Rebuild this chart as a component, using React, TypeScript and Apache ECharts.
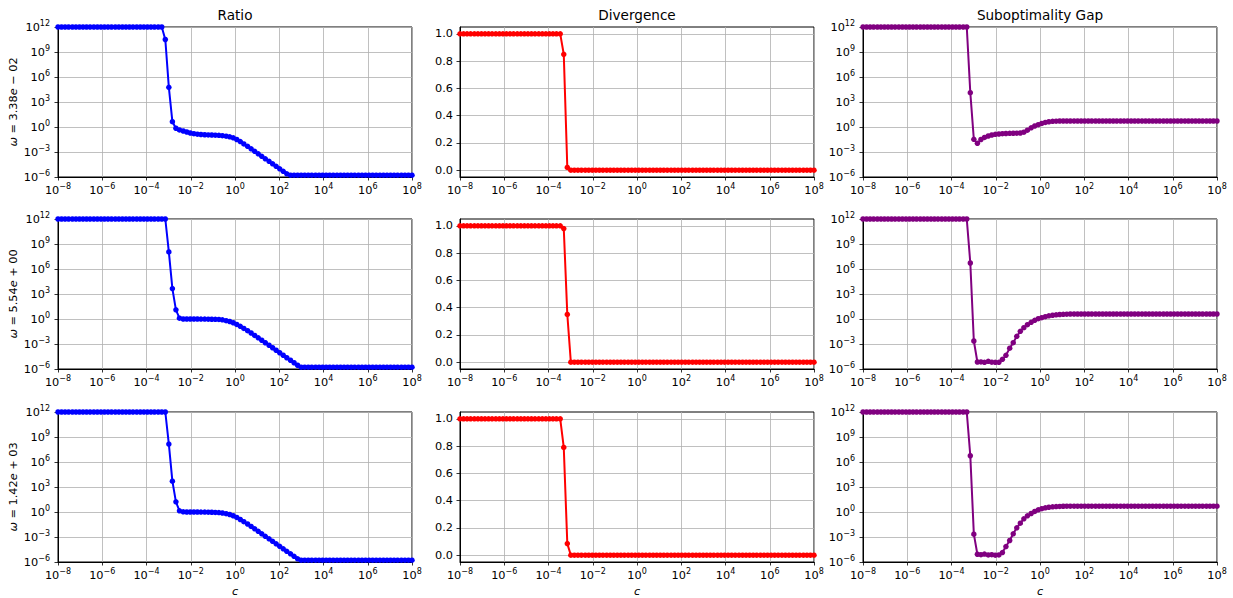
import React, { useEffect, useRef } from 'react';
import * as echarts from 'echarts';

// log10 of the sampled c values (x axis)
const C_EXP = [
  -8.00, -7.84, -7.68, -7.52, -7.35, -7.19, -7.03, -6.87, -6.71, -6.55,
  -6.38, -6.22, -6.06, -5.90, -5.74, -5.58, -5.41, -5.25, -5.09, -4.93,
  -4.77, -4.61, -4.44, -4.28, -4.12, -3.96, -3.80, -3.64, -3.47, -3.31,
  -3.15, -2.99, -2.83, -2.67, -2.51, -2.34, -2.18, -2.02, -1.86, -1.70,
  -1.54, -1.37, -1.21, -1.05, -0.89, -0.73, -0.57, -0.40, -0.24, -0.08,
  0.08, 0.24, 0.40, 0.57, 0.73, 0.89, 1.05, 1.21, 1.37, 1.54,
  1.70, 1.86, 2.02, 2.18, 2.34, 2.51, 2.67, 2.83, 2.99, 3.15,
  3.31, 3.47, 3.64, 3.80, 3.96, 4.12, 4.28, 4.44, 4.61, 4.77,
  4.93, 5.09, 5.25, 5.41, 5.58, 5.74, 5.90, 6.06, 6.22, 6.38,
  6.55, 6.71, 6.87, 7.03, 7.19, 7.35, 7.52, 7.68, 7.84, 8.00,
];

// Ratio (log10 values), one array per omega row
const RATIO_1 = [
  12, 12, 12, 12, 12, 12, 12, 12, 12, 12,
  12, 12, 12, 12, 12, 12, 12, 12, 12, 12,
  12, 12, 12, 12, 12, 12, 12, 12, 12, 12,
  10.5, 4.76, 0.64, -0.15, -0.35, -0.48, -0.6, -0.72, -0.8, -0.86,
  -0.9, -0.93, -0.95, -0.96, -0.98, -1.0, -1.04, -1.1, -1.18, -1.3,
  -1.5, -1.75, -2.03, -2.32, -2.62, -2.92, -3.22, -3.52, -3.82, -4.12,
  -4.42, -4.72, -5.02, -5.32, -5.62, -5.78, -5.78, -5.78, -5.78, -5.78,
  -5.78, -5.78, -5.78, -5.78, -5.78, -5.78, -5.78, -5.78, -5.78, -5.78,
  -5.78, -5.78, -5.78, -5.78, -5.78, -5.78, -5.78, -5.78, -5.78, -5.78,
  -5.78, -5.78, -5.78, -5.78, -5.78, -5.78, -5.78, -5.78, -5.78, -5.78,
];
const RATIO_2 = [
  12, 12, 12, 12, 12, 12, 12, 12, 12, 12,
  12, 12, 12, 12, 12, 12, 12, 12, 12, 12,
  12, 12, 12, 12, 12, 12, 12, 12, 12, 12,
  12, 8.05, 3.65, 1.1, 0.1, 0, 0, 0, 0, 0,
  -0.01, -0.01, -0.02, -0.03, -0.04, -0.05, -0.1, -0.2, -0.3, -0.45,
  -0.65, -0.88, -1.13, -1.4, -1.68, -1.97, -2.26, -2.55, -2.85, -3.15,
  -3.45, -3.75, -4.05, -4.35, -4.65, -4.95, -5.25, -5.55, -5.78, -5.78,
  -5.78, -5.78, -5.78, -5.78, -5.78, -5.78, -5.78, -5.78, -5.78, -5.78,
  -5.78, -5.78, -5.78, -5.78, -5.78, -5.78, -5.78, -5.78, -5.78, -5.78,
  -5.78, -5.78, -5.78, -5.78, -5.78, -5.78, -5.78, -5.78, -5.78, -5.78,
];
const RATIO_3 = [
  12, 12, 12, 12, 12, 12, 12, 12, 12, 12,
  12, 12, 12, 12, 12, 12, 12, 12, 12, 12,
  12, 12, 12, 12, 12, 12, 12, 12, 12, 12,
  12, 8.15, 3.7, 1.22, 0.14, 0.02, 0, 0, 0, 0,
  -0.01, -0.01, -0.02, -0.03, -0.05, -0.07, -0.12, -0.2, -0.3, -0.45,
  -0.65, -0.9, -1.16, -1.44, -1.73, -2.02, -2.32, -2.62, -2.92, -3.22,
  -3.52, -3.82, -4.12, -4.42, -4.72, -5.02, -5.32, -5.62, -5.78, -5.78,
  -5.78, -5.78, -5.78, -5.78, -5.78, -5.78, -5.78, -5.78, -5.78, -5.78,
  -5.78, -5.78, -5.78, -5.78, -5.78, -5.78, -5.78, -5.78, -5.78, -5.78,
  -5.78, -5.78, -5.78, -5.78, -5.78, -5.78, -5.78, -5.78, -5.78, -5.78,
];

// Divergence (linear values)
const DIV_1 = [
  1, 1, 1, 1, 1, 1, 1, 1, 1, 1,
  1, 1, 1, 1, 1, 1, 1, 1, 1, 1,
  1, 1, 1, 1, 1, 1, 1, 1, 1, 0.85,
  0.02, 0, 0, 0, 0, 0, 0, 0, 0, 0,
  0, 0, 0, 0, 0, 0, 0, 0, 0, 0,
  0, 0, 0, 0, 0, 0, 0, 0, 0, 0,
  0, 0, 0, 0, 0, 0, 0, 0, 0, 0,
  0, 0, 0, 0, 0, 0, 0, 0, 0, 0,
  0, 0, 0, 0, 0, 0, 0, 0, 0, 0,
  0, 0, 0, 0, 0, 0, 0, 0, 0, 0,
];
const DIV_2 = [
  1, 1, 1, 1, 1, 1, 1, 1, 1, 1,
  1, 1, 1, 1, 1, 1, 1, 1, 1, 1,
  1, 1, 1, 1, 1, 1, 1, 1, 1, 0.98,
  0.35, 0, 0, 0, 0, 0, 0, 0, 0, 0,
  0, 0, 0, 0, 0, 0, 0, 0, 0, 0,
  0, 0, 0, 0, 0, 0, 0, 0, 0, 0,
  0, 0, 0, 0, 0, 0, 0, 0, 0, 0,
  0, 0, 0, 0, 0, 0, 0, 0, 0, 0,
  0, 0, 0, 0, 0, 0, 0, 0, 0, 0,
  0, 0, 0, 0, 0, 0, 0, 0, 0, 0,
];
const DIV_3 = [
  1, 1, 1, 1, 1, 1, 1, 1, 1, 1,
  1, 1, 1, 1, 1, 1, 1, 1, 1, 1,
  1, 1, 1, 1, 1, 1, 1, 1, 1, 0.79,
  0.085, 0, 0, 0, 0, 0, 0, 0, 0, 0,
  0, 0, 0, 0, 0, 0, 0, 0, 0, 0,
  0, 0, 0, 0, 0, 0, 0, 0, 0, 0,
  0, 0, 0, 0, 0, 0, 0, 0, 0, 0,
  0, 0, 0, 0, 0, 0, 0, 0, 0, 0,
  0, 0, 0, 0, 0, 0, 0, 0, 0, 0,
  0, 0, 0, 0, 0, 0, 0, 0, 0, 0,
];

// Suboptimality gap (log10 values)
const SUB_1 = [
  12, 12, 12, 12, 12, 12, 12, 12, 12, 12,
  12, 12, 12, 12, 12, 12, 12, 12, 12, 12,
  12, 12, 12, 12, 12, 12, 12, 12, 12, 12,
  4.12, -1.48, -1.96, -1.5, -1.25, -1.08, -0.96, -0.88, -0.84, -0.8,
  -0.78, -0.76, -0.75, -0.74, -0.72, -0.62, -0.38, -0.1, 0.12, 0.28,
  0.43, 0.55, 0.63, 0.68, 0.7, 0.72, 0.72, 0.72, 0.72, 0.72,
  0.72, 0.72, 0.72, 0.72, 0.72, 0.72, 0.72, 0.72, 0.72, 0.72,
  0.72, 0.72, 0.72, 0.72, 0.72, 0.72, 0.72, 0.72, 0.72, 0.72,
  0.72, 0.72, 0.72, 0.72, 0.72, 0.72, 0.72, 0.72, 0.72, 0.72,
  0.72, 0.72, 0.72, 0.72, 0.72, 0.72, 0.72, 0.72, 0.72, 0.72,
];
const SUB_2 = [
  12, 12, 12, 12, 12, 12, 12, 12, 12, 12,
  12, 12, 12, 12, 12, 12, 12, 12, 12, 12,
  12, 12, 12, 12, 12, 12, 12, 12, 12, 12,
  6.72, -2.64, -5.16, -5.15, -5.2, -5.08, -5.18, -5.2, -5.2, -4.84,
  -4.36, -3.5, -2.84, -2.08, -1.48, -1.04, -0.68, -0.4, -0.16, 0.04,
  0.16, 0.28, 0.38, 0.45, 0.5, 0.54, 0.56, 0.58, 0.6, 0.6,
  0.6, 0.6, 0.6, 0.6, 0.6, 0.6, 0.6, 0.6, 0.6, 0.6,
  0.6, 0.6, 0.6, 0.6, 0.6, 0.6, 0.6, 0.6, 0.6, 0.6,
  0.6, 0.6, 0.6, 0.6, 0.6, 0.6, 0.6, 0.6, 0.6, 0.6,
  0.6, 0.6, 0.6, 0.6, 0.6, 0.6, 0.6, 0.6, 0.6, 0.6,
];
const SUB_3 = [
  12, 12, 12, 12, 12, 12, 12, 12, 12, 12,
  12, 12, 12, 12, 12, 12, 12, 12, 12, 12,
  12, 12, 12, 12, 12, 12, 12, 12, 12, 12,
  6.75, -2.66, -5.07, -5.12, -5.05, -5.15, -5.12, -5.18, -5.15, -4.87,
  -4.15, -3.42, -2.62, -1.9, -1.34, -0.82, -0.46, -0.18, 0.07, 0.26,
  0.4, 0.5, 0.57, 0.62, 0.65, 0.67, 0.69, 0.7, 0.7, 0.7,
  0.7, 0.7, 0.7, 0.7, 0.7, 0.7, 0.7, 0.7, 0.7, 0.7,
  0.7, 0.7, 0.7, 0.7, 0.7, 0.7, 0.7, 0.7, 0.7, 0.7,
  0.7, 0.7, 0.7, 0.7, 0.7, 0.7, 0.7, 0.7, 0.7, 0.7,
  0.7, 0.7, 0.7, 0.7, 0.7, 0.7, 0.7, 0.7, 0.7, 0.7,
];

const COLUMN_TITLES = ['Ratio', 'Divergence', 'Suboptimality Gap'];
const OMEGA_LABELS = ['3.38e − 02', '5.54e + 00', '1.42e + 03'];
const X_TICK_EXP = [-8, -6, -4, -2, 0, 2, 4, 6, 8];
const LOG_Y_TICK_EXP = [-6, -3, 0, 3, 6, 9, 12];
const DIV_TICKS = [0, 0.2, 0.4, 0.6, 0.8, 1.0];
const X_LABEL = 'c';

const FONT = 'DejaVu Sans';
const TICK_FS = 11.3;
const TITLE_FS = 13.6;
const GRID_LEFT = [58, 460, 863];
const GRID_TOP = [27, 219, 412];
const GRID_W = 354;
const GRID_H = 150;
const COLORS = ['#0000ff', '#ff0000', '#800080'];

const supFormatter = (v: number) => {
  const e = Math.round(Math.log10(v));
  const s = e < 0 ? '−' + Math.abs(e) : String(e);
  return `{b|10}{s|${s}}`;
};
const supRich = {
  b: { fontSize: TICK_FS, fontFamily: FONT, color: '#000', lineHeight: 16 },
  s: { fontSize: 8, fontFamily: FONT, color: '#000', lineHeight: 9, verticalAlign: 'top' },
};

export default function App() {
  const ref = useRef<HTMLDivElement>(null);
  useEffect(() => {
    if (!ref.current) return;
    const chart = echarts.init(ref.current, null, { renderer: 'svg' });
    const rowsData = [
      [RATIO_1, DIV_1, SUB_1],
      [RATIO_2, DIV_2, SUB_2],
      [RATIO_3, DIV_3, SUB_3],
    ];
    const grids: any[] = [];
    const xAxes: any[] = [];
    const yAxes: any[] = [];
    const series: any[] = [];
    const splitLine = { show: true, lineStyle: { color: '#b0b0b0', width: 0.8 } };
    const tickStyle = { color: '#000', width: 0.8 };
    for (let r = 0; r < 3; r++) {
      for (let c = 0; c < 3; c++) {
        const k = r * 3 + c;
        grids.push({
          left: GRID_LEFT[c], top: GRID_TOP[r], width: GRID_W, height: GRID_H,
          show: true, borderColor: '#000', borderWidth: 1, backgroundColor: 'rgba(0,0,0,0)',
        });
        const xVals = X_TICK_EXP.map((e) => Math.pow(10, e));
        xAxes.push({
          gridIndex: k, type: 'log', logBase: 10, min: 1e-8, max: 1e8,
          axisLine: { show: true, onZero: false, lineStyle: { color: '#000', width: 1 } },
          axisTick: { show: true, length: 3.5, inside: false, customValues: xVals, lineStyle: tickStyle },
          axisLabel: {
            customValues: xVals, formatter: supFormatter, rich: supRich, margin: 5,
            showMinLabel: true, showMaxLabel: true, hideOverlap: false,
          },
          splitLine, minorTick: { show: false }, minorSplitLine: { show: false },
        });
        if (c === 1) {
          yAxes.push({
            gridIndex: k, type: 'value', min: -0.05, max: 1.05,
            axisLine: { show: true, onZero: false, lineStyle: { color: '#000', width: 1 } },
            axisTick: { show: true, length: 3.5, inside: false, customValues: DIV_TICKS, lineStyle: tickStyle },
            axisLabel: {
              customValues: DIV_TICKS, formatter: (v: number) => v.toFixed(1),
              fontSize: TICK_FS, fontFamily: FONT, color: '#000', margin: 7,
              showMinLabel: true, showMaxLabel: true, hideOverlap: false,
            },
            splitLine,
          });
        } else {
          const yVals = LOG_Y_TICK_EXP.map((e) => Math.pow(10, e));
          yAxes.push({
            gridIndex: k, type: 'log', logBase: 10, min: 1e-6, max: 1e12,
            axisLine: { show: true, onZero: false, lineStyle: { color: '#000', width: 1 } },
            axisTick: { show: true, length: 3.5, inside: false, customValues: yVals, lineStyle: tickStyle },
            axisLabel: {
              customValues: yVals, formatter: supFormatter, rich: supRich, margin: 8,
              showMinLabel: true, showMaxLabel: true, hideOverlap: false,
            },
            splitLine, minorTick: { show: false }, minorSplitLine: { show: false },
          });
        }
        const vals = rowsData[r][c];
        const data = C_EXP.map((e, i) => [Math.pow(10, e), c === 1 ? vals[i] : Math.pow(10, vals[i])]);
        series.push({
          type: 'line', xAxisIndex: k, yAxisIndex: k, data,
          symbol: 'circle', symbolSize: 5.5, showSymbol: true, showAllSymbol: true,
          lineStyle: { color: COLORS[c], width: 2 }, itemStyle: { color: COLORS[c] },
          clip: true, silent: true,
        });
      }
    }
    const graphic: any[] = [];
    COLUMN_TITLES.forEach((t, c) => {
      graphic.push({
        type: 'text', x: GRID_LEFT[c] + GRID_W / 2, y: 15,
        style: { text: t, fontSize: TITLE_FS, fontFamily: FONT, fill: '#000', textAlign: 'center', textVerticalAlign: 'middle', verticalAlign: 'middle' },
      });
      graphic.push({
        type: 'text', x: GRID_LEFT[c] + GRID_W / 2, y: 591,
        style: { text: X_LABEL, fontSize: TICK_FS, fontStyle: 'italic', fontFamily: FONT, fill: '#000', textAlign: 'center', textVerticalAlign: 'middle', verticalAlign: 'middle' },
      });
    });
    OMEGA_LABELS.forEach((lab, r) => {
      const parts = lab.split('e');
      graphic.push({
        type: 'text', x: 13, y: GRID_TOP[r] + GRID_H / 2, rotation: Math.PI / 2,
        style: {
          text: `{i|ω} = ${parts[0]}{i|e}${parts[1]}`,
          rich: { i: { fontStyle: 'italic', fontSize: TICK_FS, fontFamily: FONT, fill: '#000' } },
          fontSize: TICK_FS, fontFamily: FONT, fill: '#000', textAlign: 'center', textVerticalAlign: 'middle', verticalAlign: 'middle',
        },
      });
    });
    chart.setOption({
      animation: false,
      backgroundColor: '#fff',
      textStyle: { fontFamily: FONT },
      grid: grids, xAxis: xAxes, yAxis: yAxes, series, graphic,
    });
    return () => chart.dispose();
  }, []);
  return <div ref={ref} style={{ position: 'fixed', left: 0, top: 0, width: 1233, height: 598, background: '#fff' }} />;
}
